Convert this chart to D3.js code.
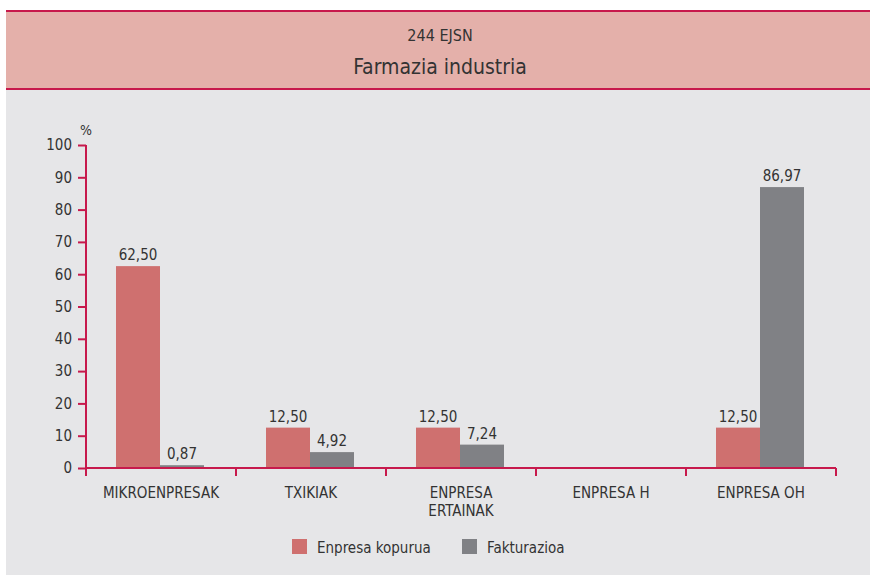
<!DOCTYPE html>
<html>
<head>
<meta charset="utf-8">
<script src="https://cdn.jsdelivr.net/npm/d3@7"></script>
<style>
  body { margin: 0; background: #ffffff; }
  text { font-family: "Liberation Sans Narrow", "DejaVu Sans Condensed", "Roboto", sans-serif; fill: #333; }
</style>
</head>
<body>
<div id="graphic"></div>
<script>
// chart data
var categories = ["MIKROENPRESAK", "TXIKIAK", "ENPRESA ERTAINAK", "ENPRESA H", "ENPRESA OH"];
var enpresaKopurua = [62.50, 12.50, 12.50, null, 12.50];
var fakturazioa = [0.87, 4.92, 7.24, null, 86.97];
var seriesNames = ["Enpresa kopurua", "Fakturazioa"];
var yTicks = [0, 10, 20, 30, 40, 50, 60, 70, 80, 90, 100];

var svgWidth = 870;
var svgHeight = 575;
var pink = "#cf706f";
var grey = "#808185";
var axisColor = "#c7194c";

var svg = d3.select("#graphic")
  .append("svg")
  .attr("width", svgWidth)
  .attr("height", svgHeight);

// panel background
svg.append("rect")
  .attr("x", 6).attr("y", 10)
  .attr("width", svgWidth - 6).attr("height", svgHeight - 10)
  .attr("fill", "#e6e6e8");

// header band
svg.append("rect")
  .attr("x", 6).attr("y", 10)
  .attr("width", svgWidth - 6).attr("height", 79)
  .attr("fill", "#e4b0aa");
svg.append("line").attr("x1", 6).attr("x2", svgWidth).attr("y1", 11).attr("y2", 11)
  .attr("stroke", axisColor).attr("stroke-width", 2);
svg.append("line").attr("x1", 6).attr("x2", svgWidth).attr("y1", 89).attr("y2", 89)
  .attr("stroke", axisColor).attr("stroke-width", 2);

svg.append("text")
  .attr("x", 440).attr("y", 41)
  .attr("text-anchor", "middle")
  .style("font-size", "16px")
  .text("244 EJSN");
svg.append("text")
  .attr("x", 440).attr("y", 74)
  .attr("text-anchor", "middle")
  .style("font-size", "21px")
  .text("Farmazia industria");

// scales
var x = d3.scaleBand()
  .domain(categories)
  .range([86, 836])
  .paddingInner(0)
  .paddingOuter(0);

var y = d3.scaleLinear()
  .domain([0, 100])
  .range([468, 145]);

var inner = d3.scaleBand()
  .domain(seriesNames)
  .range([30, x.bandwidth() - 32]);

var chart = svg.append("g");

// y axis
var yAxis = d3.axisLeft(y).tickValues(yTicks).tickSize(8).tickPadding(6);
var yg = chart.append("g").attr("transform", "translate(86,0)").call(yAxis);
yg.select(".domain").attr("stroke", axisColor).attr("stroke-width", 2)
  .attr("d", "M0," + y(100) + "V" + y(0));
yg.selectAll(".tick line").attr("stroke", axisColor).attr("stroke-width", 2);
yg.selectAll(".tick text").style("font-size", "15px").attr("fill", "#333");

chart.append("text")
  .attr("x", 86).attr("y", 135)
  .attr("text-anchor", "middle")
  .style("font-size", "14px")
  .text("%");

// bars
var rows = categories.map(function(c, i) {
  return { cat: c, values: [enpresaKopurua[i], fakturazioa[i]] };
});

var groups = chart.selectAll(".cat")
  .data(rows)
  .enter()
  .append("g")
  .attr("transform", function(d) { return "translate(" + x(d.cat) + ",0)"; });

groups.each(function(d) {
  var g = d3.select(this);
  d.values.forEach(function(v, j) {
    if (v == null) return;
    var bx = inner(seriesNames[j]);
    g.append("rect")
      .attr("x", bx)
      .attr("y", y(v))
      .attr("width", inner.bandwidth())
      .attr("height", y(0) - y(v))
      .attr("fill", j === 0 ? pink : grey);
    g.append("text")
      .attr("x", bx + inner.bandwidth() / 2)
      .attr("y", y(v) - 6)
      .attr("text-anchor", "middle")
      .style("font-size", "15px")
      .text(d3.format(".2f")(v).replace(".", ","));
  });
});

// x axis
var xAxis = d3.axisBottom(x).tickSize(0).tickFormat("");
var xg = chart.append("g").attr("transform", "translate(0,468)").call(xAxis);
xg.select(".domain").attr("stroke", axisColor).attr("stroke-width", 2)
  .attr("d", "M86,0H836");
var bounds = categories.map(function(c) { return x(c); }).concat([836]);
xg.selectAll(".bound")
  .data(bounds)
  .enter()
  .append("line")
  .attr("x1", function(d) { return d; })
  .attr("x2", function(d) { return d; })
  .attr("y1", 0).attr("y2", 8)
  .attr("stroke", axisColor).attr("stroke-width", 2);

// category labels (wrap two-word label that is too long)
categories.forEach(function(c) {
  var lines = c === "ENPRESA ERTAINAK" ? ["ENPRESA", "ERTAINAK"] : [c];
  var t = chart.append("text")
    .attr("x", x(c) + x.bandwidth() / 2)
    .attr("y", 498)
    .attr("text-anchor", "middle")
    .style("font-size", "15px");
  lines.forEach(function(l, k) {
    t.append("tspan")
      .attr("x", x(c) + x.bandwidth() / 2)
      .attr("dy", k === 0 ? 0 : 18)
      .text(l);
  });
});

// legend
var legend = svg.append("g");
var legendX = [292, 462];
seriesNames.forEach(function(s, i) {
  legend.append("rect")
    .attr("x", legendX[i]).attr("y", 539)
    .attr("width", 15).attr("height", 15)
    .attr("fill", i === 0 ? pink : grey);
  legend.append("text")
    .attr("x", legendX[i] + 25).attr("y", 553)
    .style("font-size", "15px")
    .text(s);
});
</script>
</body>
</html>
